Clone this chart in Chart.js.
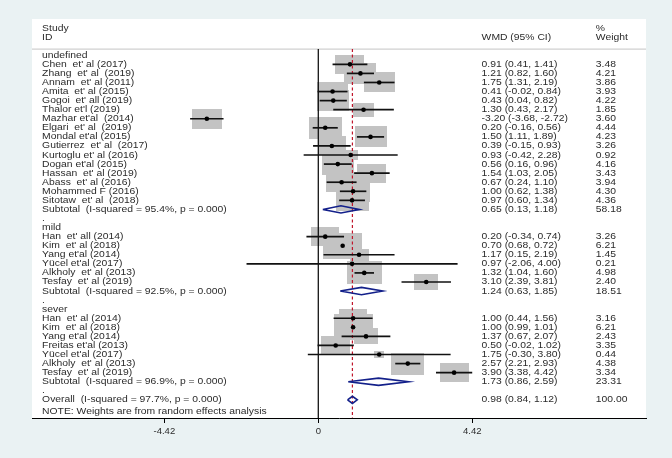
<!DOCTYPE html>
<html>
<head>
<meta charset="utf-8">
<script src="https://cdn.jsdelivr.net/npm/chart.js@4/dist/chart.umd.min.js"></script>
<style>
    html, body { margin: 0; padding: 0; background: #eaf2f3; }
    #wrap { width: 672px; height: 458px; }
</style>
</head>
<body>
<div id="wrap"><canvas id="forestChart"></canvas></div>
<script>
    const groupNames = ['undefined', 'mild', 'sever'];

    const studyLabels = [
        "Chen  et' al (2017)", "Zhang  et' al  (2019)", "Annam  et' al (2011)", "Amita  et' al (2015)",
        "Gogoi  et' all (2019)", "Thalor et'l (2019)", "Mazhar et'al  (2014)", "Elgari  et' al  (2019)",
        "Mondal et'al (2015)", "Gutierrez  et' al  (2017)", "Kurtoglu et' al (2016)", "Dogan et'al (2015)",
        "Hassan  et' al (2019)", "Abass  et' al (2016)", "Mohammed F (2016)", "Sitotaw  et' al  (2018)",
        "Han  et' all (2014)", "Kim  et' al (2018)", "Yang et'al (2014)", "Yücel et'al (2017)",
        "Alkholy  et' al (2013)", "Tesfay  et' al (2019)",
        "Han  et' al (2014)", "Kim  et' al (2018)", "Yang et'al (2014)", "Freitas et'al (2013)",
        "Yücel et'al (2017)", "Alkholy  et' al (2013)", "Tesfay  et' al (2019)"
    ];
    const studyGroups = [0, 0, 0, 0, 0, 0, 0, 0, 0, 0, 0, 0, 0, 0, 0, 0, 1, 1, 1, 1, 1, 1, 2, 2, 2, 2, 2, 2, 2];
    const wmd = [0.91, 1.21, 1.75, 0.41, 0.43, 1.30, -3.20, 0.20, 1.50, 0.39, 0.93, 0.56, 1.54, 0.67, 1.00, 0.97,
        0.20, 0.70, 1.17, 0.97, 1.32, 3.10,
        1.00, 1.00, 1.37, 0.50, 1.75, 2.57, 3.90];
    const ciLow = [0.41, 0.82, 1.31, -0.02, 0.04, 0.43, -3.68, -0.16, 1.11, -0.15, -0.42, 0.16, 1.03, 0.24, 0.62, 0.60,
        -0.34, 0.68, 0.15, -2.06, 1.04, 2.39,
        0.44, 0.99, 0.67, -0.02, -0.30, 2.21, 3.38];
    const ciHigh = [1.41, 1.60, 2.19, 0.84, 0.82, 2.17, -2.72, 0.56, 1.89, 0.93, 2.28, 0.96, 2.05, 1.10, 1.38, 1.34,
        0.74, 0.72, 2.19, 4.00, 1.60, 3.81,
        1.56, 1.01, 2.07, 1.02, 3.80, 2.93, 4.42];
    const weights = [3.48, 4.21, 3.86, 3.93, 4.22, 1.85, 3.60, 4.44, 4.23, 3.26, 0.92, 4.16, 3.43, 3.94, 4.30, 4.36,
        3.26, 6.21, 1.45, 0.21, 4.98, 2.40,
        3.16, 6.21, 2.43, 3.35, 0.44, 4.38, 3.34];

    const subtotalLabels = [
        'Subtotal  (I-squared = 95.4%, p = 0.000)',
        'Subtotal  (I-squared = 92.5%, p = 0.000)',
        'Subtotal  (I-squared = 96.9%, p = 0.000)'
    ];
    const subtotalWmd = [0.65, 1.24, 1.73];
    const subtotalLow = [0.13, 0.63, 0.86];
    const subtotalHigh = [1.18, 1.85, 2.59];
    const subtotalWeight = [58.18, 18.51, 23.31];

    const overallLabel = 'Overall  (I-squared = 97.7%, p = 0.000)';
    const overallWmd = 0.98;
    const overallLow = 0.84;
    const overallHigh = 1.12;
    const overallWeight = 100.00;
    const noteText = 'NOTE: Weights are from random effects analysis';

    const xTicks = [-4.42, 0, 4.42];
    const xTickLabels = ['-4.42', '0', '4.42'];

    // layout of the rows: group heading, studies, subtotal, "." spacer, then overall
    const rows = [];
    const studyRows = [];
    const subtotalRows = [];
    let r = 0;
    groupNames.forEach((g, gi) => {
        rows.push({ row: r++, label: g });
        studyLabels.forEach((s, i) => {
            if (studyGroups[i] !== gi) return;
            studyRows[i] = r;
            rows.push({ row: r++, label: s, est: wmd[i], lo: ciLow[i], hi: ciHigh[i], w: weights[i] });
        });
        subtotalRows[gi] = r;
        rows.push({ row: r++, label: subtotalLabels[gi], est: subtotalWmd[gi], lo: subtotalLow[gi], hi: subtotalHigh[gi], w: subtotalWeight[gi] });
        rows.push({ row: r++, label: '.' });
    });
    const overallRow = r++;
    rows.push({ row: overallRow, label: overallLabel, est: overallWmd, lo: overallLow, hi: overallHigh, w: overallWeight });
    const noteRow = r + 0.3;

    const X_MIN = -8.22, X_MAX = 9.41;
    const Y_MIN = -4, Y_MAX = 40;
    const HEADER_LINE = -0.68;
    const COL_LABEL = -7.93, COL_CI = 4.69, COL_WEIGHT = 7.97;
    const FONT = '"Liberation Sans", Arial, sans-serif';
    const TEXT_COLOR = '#2b2b2b';
    const TEXT_SIZE = 9;
    const TEXT_STRETCH = 1.15;

    const boxCache = {};
    function boxImage(w) {
        if (boxCache[w]) return boxCache[w];
        const c = document.createElement('canvas');
        c.width = Math.max(1, Math.round(15.7 * Math.sqrt(w)));
        c.height = Math.max(1, Math.round(10.3 * Math.sqrt(w)));
        const g = c.getContext('2d');
        g.fillStyle = '#c3c3c3';
        g.fillRect(0, 0, c.width, c.height);
        boxCache[w] = c;
        return c;
    }

    const datasets = [];

    datasets.push({
        label: 'boxes',
        data: studyLabels.map((s, i) => ({ x: wmd[i], y: studyRows[i] })),
        pointStyle: (ctx) => boxImage(weights[ctx.dataIndex]),
        pointRadius: 3,
        order: 10
    });

    datasets.push({
        label: 'header rule',
        data: [{ x: X_MIN, y: HEADER_LINE }, { x: X_MAX, y: HEADER_LINE }],
        showLine: true, borderColor: '#c4c4c4', borderWidth: 1, pointRadius: 0, order: 9
    });
    datasets.push({
        label: 'no effect',
        data: [{ x: 0, y: HEADER_LINE }, { x: 0, y: Y_MAX }],
        showLine: true, borderColor: '#000000', borderWidth: 1.2, pointRadius: 0, order: 8
    });
    datasets.push({
        label: 'overall effect',
        data: [{ x: overallWmd, y: HEADER_LINE }, { x: overallWmd, y: Y_MAX }],
        showLine: true, borderColor: '#c0162c', borderWidth: 1.2, borderDash: [3, 2.5], pointRadius: 0, order: 7
    });

    studyLabels.forEach((s, i) => {
        datasets.push({
            label: 'ci ' + i,
            data: [{ x: ciLow[i], y: studyRows[i] }, { x: ciHigh[i], y: studyRows[i] }],
            showLine: true, borderColor: '#111111', borderWidth: 1.7, pointRadius: 0, order: 5
        });
    });

    datasets.push({
        label: 'estimates',
        data: studyLabels.map((s, i) => ({ x: wmd[i], y: studyRows[i] })),
        pointStyle: 'circle', pointRadius: 2.3, backgroundColor: '#000000', borderWidth: 0, order: 4
    });

    const pooled = subtotalWmd.map((v, gi) => ({ est: v, lo: subtotalLow[gi], hi: subtotalHigh[gi], row: subtotalRows[gi] }));
    pooled.push({ est: overallWmd, lo: overallLow, hi: overallHigh, row: overallRow });
    pooled.forEach((d, i) => {
        const h = 0.4;
        datasets.push({
            label: 'diamond ' + i,
            data: [
                { x: d.lo, y: d.row }, { x: d.est, y: d.row - h }, { x: d.hi, y: d.row },
                { x: d.est, y: d.row + h }, { x: d.lo, y: d.row }
            ],
            showLine: true, borderColor: '#13208a', borderWidth: 1.6, borderJoinStyle: 'miter',
            pointRadius: 0, fill: false, order: 3
        });
    });

    const panelPlugin = {
        id: 'panel',
        beforeDraw(chart) {
            const { ctx, chartArea: a } = chart;
            ctx.save();
            ctx.fillStyle = '#eaf2f3';
            ctx.fillRect(0, 0, chart.width, chart.height);
            ctx.fillStyle = '#ffffff';
            ctx.fillRect(a.left, a.top, a.right - a.left, a.bottom - a.top);
            ctx.restore();
        }
    };

    function putText(ctx, text, x, y) {
        ctx.save();
        ctx.translate(x, y);
        ctx.scale(TEXT_STRETCH, 1);
        ctx.fillText(text, 0, 0);
        ctx.restore();
    }

    const textPlugin = {
        id: 'columns',
        afterDatasetsDraw(chart) {
            const { ctx, scales: { x, y } } = chart;
            const xl = x.getPixelForValue(COL_LABEL);
            const xc = x.getPixelForValue(COL_CI);
            const xw = x.getPixelForValue(COL_WEIGHT);
            ctx.save();
            ctx.font = TEXT_SIZE + 'px ' + FONT;
            ctx.fillStyle = TEXT_COLOR;
            ctx.textBaseline = 'middle';
            ctx.textAlign = 'left';

            putText(ctx, 'Study', xl, y.getPixelForValue(-3));
            putText(ctx, 'ID', xl, y.getPixelForValue(-2));
            putText(ctx, 'WMD (95% CI)', xc, y.getPixelForValue(-2));
            putText(ctx, '%', xw, y.getPixelForValue(-3));
            putText(ctx, 'Weight', xw, y.getPixelForValue(-2));

            rows.forEach(row => {
                const py = y.getPixelForValue(row.row);
                putText(ctx, row.label, xl, py);
                if (row.est !== undefined) {
                    putText(ctx, `${row.est.toFixed(2)} (${row.lo.toFixed(2)}, ${row.hi.toFixed(2)})`, xc, py);
                    putText(ctx, row.w.toFixed(2), xw, py);
                }
            });
            putText(ctx, noteText, xl, y.getPixelForValue(noteRow));
            ctx.restore();
        }
    };

    const ctx = document.getElementById('forestChart').getContext('2d');
    new Chart(ctx, {
        type: 'scatter',
        data: { datasets },
        options: {
            responsive: true,
            maintainAspectRatio: false,
            animation: false,
            events: [],
            layout: { padding: { left: 32, right: 26, top: 19, bottom: 0 } },
            plugins: { legend: { display: false }, tooltip: { enabled: false } },
            scales: {
                x: {
                    type: 'linear',
                    min: X_MIN,
                    max: X_MAX,
                    afterBuildTicks: (scale) => { scale.ticks = xTicks.map(v => ({ value: v })); },
                    afterFit: (scale) => { scale.height = 40; },
                    grid: { display: true, drawOnChartArea: false, drawTicks: true, tickLength: 5, color: '#000000', lineWidth: 1 },
                    border: { display: true, color: '#000000', width: 1 },
                    ticks: {
                        autoSkip: false, maxRotation: 0, padding: 3,
                        color: TEXT_COLOR,
                        font: { family: FONT, size: 9.5 },
                        callback: (value, index) => xTickLabels[index]
                    }
                },
                y: {
                    type: 'linear',
                    display: false,
                    reverse: true,
                    min: Y_MIN,
                    max: Y_MAX
                }
            }
        },
        plugins: [panelPlugin, textPlugin]
    });
</script>
</body>
</html>
